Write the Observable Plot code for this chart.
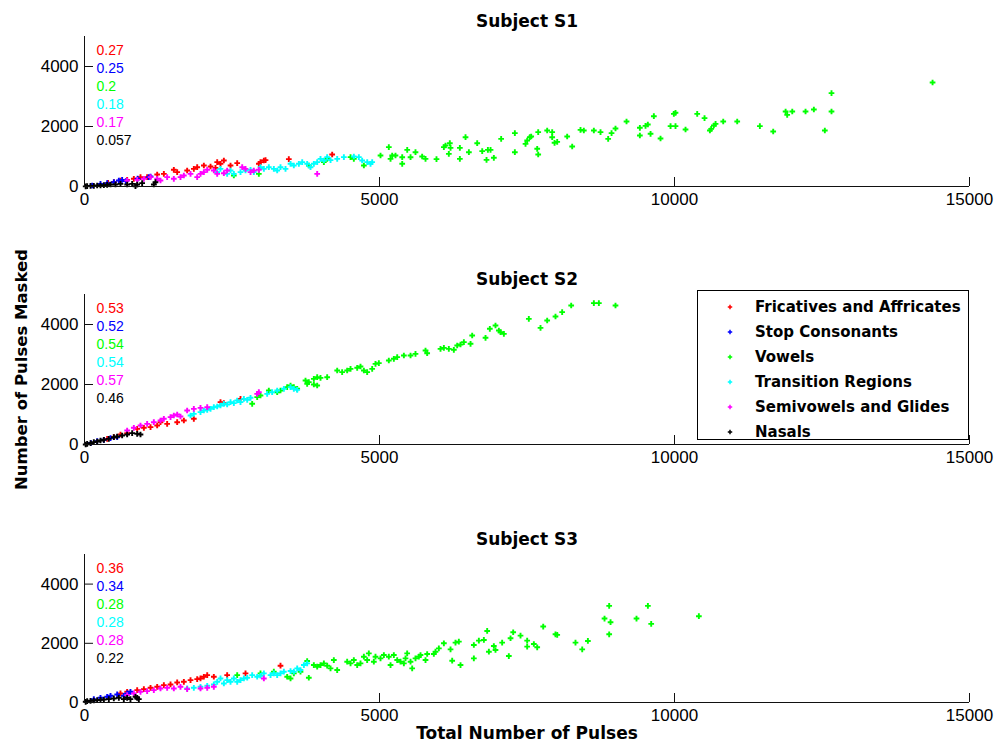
<!DOCTYPE html>
<html>
<head>
<meta charset="utf-8">
<script src="https://cdn.jsdelivr.net/npm/d3@7"></script>
<script src="https://cdn.jsdelivr.net/npm/@observablehq/plot@0.6"></script>
<style>
  html, body { margin: 0; padding: 0; background: #fff; }
  #chart { position: relative; width: 1000px; height: 753px; background: #fff; overflow: hidden; }
  .panel { position: absolute; left: 0; }
  #legend { position: absolute; left: 697px; top: 290px; width: 272px; height: 150px; border: 1px solid #000; background: #fff; box-sizing: border-box;
    font-family: "DejaVu Sans", sans-serif; font-weight: bold; font-size: 15px; color: #000; }
  #legend .row { position: absolute; left: 0; height: 25px; display: flex; align-items: center; }
  #legend svg { position: absolute; left: 27px; }
  #legend span { position: absolute; left: 57px; white-space: nowrap; }
</style>
</head>
<body>
<div id="chart"></div>
<script>
// ---- Data ----
const categories = ["Fricatives and Affricates", "Stop Consonants", "Vowels", "Transition Regions", "Semivowels and Glides", "Nasals"];
const colors = ["#ff0000", "#0000ff", "#00ff00", "#00ffff", "#ff00ff", "#000000"];
const subjects = ["Subject S1", "Subject S2", "Subject S3"];
const xTicks = [0, 5000, 10000, 15000];
const yTicks = [0, 2000, 4000];
const xLabel = "Total Number of Pulses";
const yLabel = "Number of Pulses Masked";

const corrS1 = ["0.27", "0.25", "0.2", "0.18", "0.17", "0.057"];
const corrS2 = ["0.53", "0.52", "0.54", "0.54", "0.57", "0.46"];
const corrS3 = ["0.36", "0.34", "0.28", "0.28", "0.28", "0.22"];

// Subject S1  [total pulses, pulses masked]
const s1Fricatives = [[400,120],[500,150],[610,200],[723,222],[836,256],[949,311],[1062,311],[1232,400],[1345,422],[1514,556],[1571,478],[1740,533],[1853,589],[1910,644],[2023,700],[2136,667],[2220,622],[2249,811],[2305,756],[2362,867],[2475,700],[2588,778],[2955,756],[2983,811],[3040,867],[3068,878],[3463,911],[4198,1067]];
const s1Stops = [[130,33],[271,89],[384,111],[497,144],[582,200],[638,222],[700,180],[900,260],[1090,311],[1119,333]];
const s1Vowels = [[2531,367],[2955,422],[3802,700],[4057,811],[4113,922],[4509,978],[4565,922],[4735,700],[5017,1033],[5158,1311],[5187,922],[5215,1033],[5271,1033],
  [5385,977],[5385,756],[5470,1222],[5526,977],[5610,1144],[5723,1000],[5780,922],[5966,911],[6091,1311],[6119,1367],[6192,1444],[6204,1289],[6175,1089],[6362,1289],[6362,922],[6458,1644],[6515,1144],[6656,1444],[6741,1178],[6814,889],[6837,1222],[6882,1222],[6938,956],[7062,1589],[7294,1778],[7294,1144],[7475,1422],[7503,1533],[7548,1644],[7571,1667],[7673,1256],[7690,1067],[7690,1811],[7842,1867],[7927,1811],[7927,1644],[7967,1456],[8012,1489],[8181,1667],[8266,1333],[8407,1889],[8463,1867],[8633,1867],[8746,1811],[8876,1589],[8933,1778],[9000,1933],[9187,2167],[9413,1956],[9413,1700],[9509,2022],[9548,2067],[9594,1756],[9650,2344],[9763,1600],[9933,2011],[9989,2422],[10017,2456],[10017,2011],[10187,1900],[10385,2422],[10509,2278],[10600,1867],[10622,1922],[10667,2033],[10696,2089],[10826,2167],[11063,2167],[11447,2011],[11673,1833],[11883,2500],[11910,2389],[11996,2500],[12221,2500],[12362,2567],[12548,1867],[12661,2500],[12661,3111],[14374,3467]];
const s1Transitions = [[2249,478],[2305,589],[2418,422],[2475,533],[2531,422],[2644,478],[2729,533],[2814,556],[2870,478],[2983,644],[3040,589],[3124,644],[3209,589],[3266,533],[3322,644],[3407,589],[3492,756],[3548,700],[3633,756],[3690,811],[3774,756],[3831,644],[3887,756],[3944,811],[4000,922],[4057,867],[4113,978],[4170,878],[4283,922],[4396,978],[4565,1000],[4650,978],[4706,867],[4792,811],[4848,756],[4876,811]];
const s1Semivowels = [[723,200],[893,222],[1006,256],[1119,311],[1232,256],[1288,200],[1401,311],[1514,256],[1627,311],[1684,367],[1797,422],[1910,311],[1966,422],[2023,478],[2080,556],[2192,533],[2249,422],[2362,444],[2418,533],[2673,644],[2729,589],[2814,478],[2870,533],[2955,556],[3944,422]];
const s1Nasals = [[20,5],[45,11],[102,22],[158,22],[215,33],[271,33],[328,44],[384,56],[441,67],[525,67],[610,89],[723,67],[808,89],[893,67],[977,111],[864,10],[1175,67],[1203,144]];

// Subject S2
const s2Fricatives = [[384,189],[497,244],[610,333],[723,378],[893,522],[1006,556],[1119,578],[1232,633],[1288,744],[1401,689],[1571,744],[1684,800],[1853,856],[2305,1411],[2362,1378],[2644,1522]];
const s2Stops = [[110,50],[215,111],[328,156],[441,211],[554,244]];
const s2Vowels = [[2842,1356],[2927,1578],[2983,1633],[3124,1800],[3266,1744],[3322,1800],[3435,1911],[3492,1967],[3548,1911],[3605,1856],[3746,2133],[3802,2078],[3887,2189],[3944,2244],[4000,2222],[4113,2244],[4283,2467],[4367,2411],[4452,2467],[4509,2522],[4622,2556],[4678,2600],[4735,2467],[4791,2411],[4876,2522],[4932,2689],[4989,2711],[5158,2800],[5243,2856],[5300,2911],[5413,2967],[5526,2967],[5610,3022],[3887,2000],[3944,1967],[3774,2022],
  [5780,3133],[5808,3044],[6034,3189],[6091,3222],[6175,3189],[6260,3156],[6317,3300],[6373,3333],[6430,3411],[6543,3356],[6571,3633],[6797,3556],[6870,3856],[6966,3967],[7023,3800],[7051,3744],[7108,3689],[7531,4189],[7729,3889],[7842,4133],[7983,4267],[8096,4411],[8249,4633],[8633,4711],[8718,4711],[9000,4633]];
const s2Transitions = [[1797,967],[1853,1022],[1966,1078],[2023,1133],[2080,1156],[2136,1189],[2192,1244],[2249,1267],[2305,1300],[2362,1356],[2418,1333],[2475,1411],[2531,1378],[2588,1467],[2644,1411],[2701,1522],[2758,1489],[2814,1556],[3096,1689],[3181,1744],[3266,1800],[3379,1856],[3492,1911],[3548,1856],[3605,1822]];
const s2Semivowels = [[723,467],[836,556],[949,633],[1062,689],[1175,744],[1288,800],[1345,856],[1458,911],[1514,967],[1571,1000],[1627,933],[1740,1133],[1853,1189],[1966,1222],[2080,1244],[2955,1744],[2927,1689]];
const s2Nasals = [[20,0],[45,22],[102,44],[158,78],[215,100],[271,133],[328,156],[412,189],[497,244],[554,267],[638,300],[723,333],[808,378],[893,356],[949,333]];

// Subject S3
const s3Fricatives = [[610,305],[723,362],[893,418],[1006,452],[1119,497],[1232,531],[1345,588],[1458,610],[1571,678],[1684,700],[1797,757],[1910,791],[1966,813],[2023,870],[2080,926],[2192,870],[2418,926],[2729,983],[3322,1243]];
const s3Stops = [[158,113],[271,158],[384,192],[441,226],[554,271],[666,226],[723,305],[779,362]];
const s3Vowels = [[2588,926],[2983,983],[3209,1040],[3435,870],[3492,813],[3548,983],[3661,1040],[3774,1400],[3802,836],[3887,1265],[3944,1209],[4000,1265],[4057,1322],[4113,1243],[4170,1152],[4226,1435],[4283,1096],[4452,1378],[4509,1322],[4565,1435],[4622,1265],[4678,1322],[4735,1548],[4791,1435],[4819,1661],[4904,1378],[4932,1548],[5017,1491],[5074,1604],[5158,1548],[5187,1265],[5243,1604],[5300,1435],[5356,1378],[5413,1322],[5441,1491],[5469,1661],[5526,1378],[5554,1152],[5610,1491],[5667,1548],
  [5695,1604],[5780,1435],[5808,1638],[5921,1638],[5949,1717],[6006,1830],[6091,2000],[6204,1796],[6232,1412],[6288,2023],[6345,2056],[6373,1265],[6599,1492],[6599,1943],[6684,2090],[6769,2113],[6825,2418],[6854,1717],[6938,1909],[6966,1774],[7079,2023],[7192,1570],[7221,2170],[7266,2373],[7390,2260],[7503,2090],[7503,1887],[7616,1977],[7673,1864],[7775,2565],[7983,2305],[8012,2283],[8322,2023],[8436,1796],[8532,2079],[8814,2836],[8893,3266],[8916,2712],[8893,2305],[9356,2836],[9549,3266],[9605,2655],[10413,2915]];
const s3Transitions = [[1740,475],[1853,497],[1966,531],[2080,565],[2192,610],[2249,700],[2305,813],[2362,644],[2418,757],[2475,700],[2531,813],[2588,700],[2644,757],[2701,813],[2758,836],[2842,926],[2927,870],[2983,904],[3040,983],[3153,926],[3209,983],[3266,926],[3322,983],[3379,1040],[3492,1062],[3548,1040],[3605,1152],[3661,1096],[3718,1265],[3774,1322]];
const s3Semivowels = [[723,249],[836,305],[949,362],[1062,384],[1175,418],[1288,475],[1401,497],[1514,475],[1627,531],[1740,452],[1966,475],[2080,497],[2192,531],[3040,813]];
const s3Nasals = [[20,23],[45,45],[102,57],[158,68],[215,79],[271,90],[328,102],[412,113],[497,136],[582,158],[666,113],[723,158],[779,113],[864,192],[893,158],[921,113]];

const seriesBySubject = [
  [s1Fricatives, s1Stops, s1Vowels, s1Transitions, s1Semivowels, s1Nasals],
  [s2Fricatives, s2Stops, s2Vowels, s2Transitions, s2Semivowels, s2Nasals],
  [s3Fricatives, s3Stops, s3Vowels, s3Transitions, s3Semivowels, s3Nasals]
];
const corrBySubject = [corrS1, corrS2, corrS3];

// ---- Layout ----
const W = 1000, ML = 84, MR = 31;
const panels = [
  {top: 0,   height: 258, mt: 36, mb: 72},
  {top: 258, height: 260, mt: 36, mb: 74},
  {top: 518, height: 235, mt: 36, mb: 51}
];
const tickLen = 9;
const chart = document.getElementById("chart");

panels.forEach((p, i) => {
  const frameH = p.height - p.mt - p.mb;
  const frameW = W - ML - MR;
  const marks = [];
  seriesBySubject[i].forEach((pts, k) => {
    marks.push(Plot.dot(pts, {x: d => d[0], y: d => d[1], fill: colors[k], r: 2.4, symbol: "cross"}));
  });
  marks.push(
    Plot.ruleX([0], {stroke: "#111", strokeWidth: 1}),
    Plot.ruleY([0], {stroke: "#111", strokeWidth: 1}),
    Plot.tickX(xTicks, {x: d => d, insetTop: frameH - tickLen, stroke: "#111"}),
    Plot.tickY(yTicks, {y: d => d, insetRight: frameW - tickLen, stroke: "#111"}),
    Plot.axisX(xTicks, {tickSize: 0, tickPadding: 6, tickFormat: d => String(d), label: null, fontSize: 17}),
    Plot.axisY(yTicks, {tickSize: 0, tickPadding: 6, tickFormat: d => String(d), label: null, fontSize: 17}),
    Plot.text([subjects[i]], {frameAnchor: "top", dy: -22, fontWeight: "bold", fontSize: 17, fontFamily: "DejaVu Sans", fill: "#000"})
  );
  corrBySubject[i].forEach((c, k) => {
    marks.push(Plot.text([c], {frameAnchor: "top-left", textAnchor: "start", dx: 12, dy: 9 + 18 * k, fill: colors[k], fontSize: 14}));
  });
  if (i === 1) {
    marks.push(Plot.text([yLabel], {frameAnchor: "left", textAnchor: "middle", dx: -63, rotate: -90, fontWeight: "bold", fontSize: 16.5, fontFamily: "DejaVu Sans", fill: "#000"}));
  }
  if (i === 2) {
    marks.push(Plot.text([xLabel], {frameAnchor: "bottom", dy: 36, fontWeight: "bold", fontSize: 17, fontFamily: "DejaVu Sans", fill: "#000"}));
  }
  const svg = Plot.plot({
    width: W, height: p.height,
    marginLeft: ML, marginRight: MR, marginTop: p.mt, marginBottom: p.mb,
    x: {domain: [0, 15000]},
    y: {domain: [0, 5000]},
    style: {fontFamily: "'Liberation Sans', Arial, sans-serif", fontSize: "17px", color: "#000", background: "transparent", overflow: "visible"},
    marks
  });
  svg.classList.add("panel");
  svg.style.top = p.top + "px";
  chart.appendChild(svg);
});

// ---- Legend (subject S2 panel) ----
const legend = document.createElement("div");
legend.id = "legend";
const crossPath = d3.symbol(d3.symbolCross, 11)();
categories.forEach((name, k) => {
  const row = document.createElement("div");
  row.className = "row";
  row.style.top = (3 + 25 * k) + "px";
  row.innerHTML = `<svg width="10" height="10" viewBox="-5 -5 10 10"><path d="${crossPath}" fill="${colors[k]}"></path></svg><span>${name}</span>`;
  legend.appendChild(row);
});
chart.appendChild(legend);
</script>
</body>
</html>
